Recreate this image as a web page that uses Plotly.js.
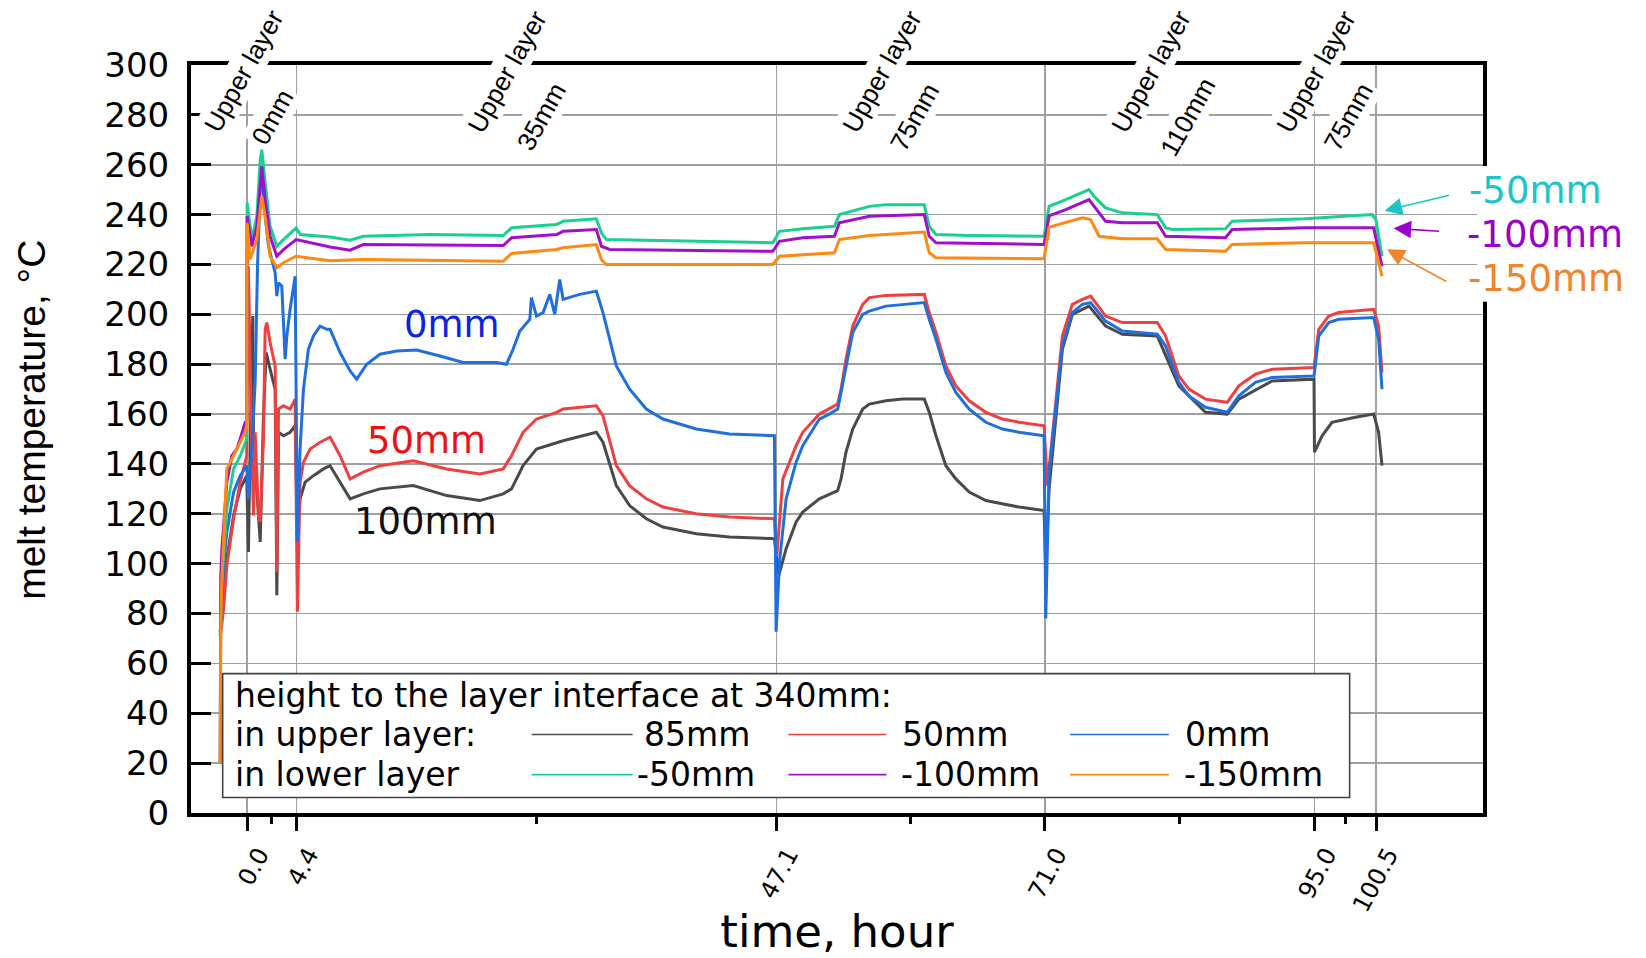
<!DOCTYPE html>
<html>
<head>
<meta charset="utf-8">
<script src="https://cdn.plot.ly/plotly-3.0.1.min.js"></script>
<style>html,body{margin:0;padding:0;background:#fff;}#chart{width:1646px;height:958px;}</style>
</head>
<body>
<div id="chart"></div>
<script>
// ---------- data (time in hours, temperature in °C) ----------
const t85 = [-2.40,-2.25,-2.10,-1.81,-1.21,-0.62,-0.04,0.11,0.26,0.50,0.56,0.71,1.16,1.45,1.69,2.04,2.49,2.64,2.79,3.23,3.82,4.27,4.47,4.71,5.16,5.90,6.79,7.38,8.27,9.16,10.34,11.82,14.79,17.75,20.71,22.79,23.53,24.56,25.75,28.12,31.08,31.67,32.86,34.04,35.53,37.01,39.97,42.93,46.93,47.32,47.97,48.86,49.45,50.34,50.93,52.56,52.86,53.30,53.90,54.79,55.38,56.86,58.34,60.27,60.71,61.31,62.19,63.08,64.27,65.75,67.23,68.71,70.93,71.08,71.38,72.56,73.45,74.93,76.41,77.90,81.01,82.93,85.30,87.23,88.27,91.23,94.96,95.00,95.68,96.56,98.64,100.27,100.71,101.01];
const v85 = [71,84,88.7,102,119.3,130,135.3,104.7,146,199.3,150,140,108.7,159.3,184.7,178,170,87.3,152.7,151.3,152.7,155.3,112,126,132.7,135.3,138,139.3,132.7,126,128,130,131.3,127.3,125.3,128,130,139.3,146,149.3,152.7,148.7,131.3,123.3,118,114.7,112,110.7,110,95.3,106,116.7,120.7,124,126,129.3,134,144.7,154,162,164,165.3,166,166,160.7,151.3,139.3,134,128.7,125.3,124,122.7,121.3,98,130,186,200,203.3,195.3,192,191.3,171.3,160.7,160,166,173.3,174,144.7,151.3,156.7,158.7,160,152.7,139.3];

const t50 = [-2.35,-2.10,-1.81,-1.21,-0.62,-0.04,0.11,0.26,0.41,0.56,0.71,1.01,1.16,1.45,1.60,1.75,2.04,2.49,2.64,2.79,3.23,3.82,4.27,4.47,4.71,5.01,5.60,6.49,7.08,7.38,8.27,9.16,10.34,11.82,14.79,17.75,20.71,22.79,23.53,24.56,25.75,27.53,28.12,31.08,31.67,32.86,34.04,35.53,37.01,39.97,42.93,46.93,47.14,47.38,47.68,48.86,49.45,50.93,52.56,52.86,53.30,53.90,54.79,55.38,56.86,60.27,60.71,61.31,62.19,63.08,64.27,65.75,67.23,68.71,70.93,71.23,71.97,72.56,73.45,74.34,75.08,76.41,77.90,81.01,81.75,82.93,83.82,85.30,87.23,88.27,89.75,91.23,94.96,95.38,96.27,97.16,100.27,100.71,101.01];
const v50 = [72,82,99.3,118,132.7,143.3,219.3,172.7,146,119.3,152.7,119.3,116.7,150,194,196.7,188.7,179.3,96.7,162,163.3,162,166,80.7,132.7,140.7,146,148.7,150,150.7,143.3,134,136.7,139.3,141.3,138,136,138,143.3,152.7,158,160.7,162,163.3,159.3,139.3,131.3,126,122.7,120,118.7,118,103,116,134,147.3,152.7,160,164,170,182,195.3,204,206.7,207.6,208,200.7,192.7,179.3,171.3,165.3,160.7,158,156.7,155.3,131.3,166,191.3,204,206,207.3,199.3,196.7,196.7,191.3,175.3,170,166,164.7,171.3,176,178,178.7,194,199.3,200.7,202,195.3,176.7];

const t0 = [-2.40,-2.10,-1.81,-1.21,-0.62,-0.04,0.11,0.41,0.71,0.92,1.16,1.30,1.60,1.90,2.34,2.49,2.64,2.79,3.08,3.23,3.38,3.53,3.82,4.27,4.47,4.71,5.01,5.45,5.90,6.49,7.08,7.38,8.27,9.16,9.75,10.64,11.82,13.30,15.08,17.16,19.23,22.19,23.08,23.67,24.27,25.16,25.30,25.75,26.34,26.93,27.38,27.82,28.12,29.60,31.08,31.67,32.86,34.04,35.53,37.01,39.97,42.93,46.93,47.08,47.38,47.97,48.86,49.45,50.34,50.93,51.82,52.56,52.86,53.30,53.90,54.79,55.38,56.86,58.34,60.27,60.71,61.31,62.19,63.08,64.27,65.75,67.23,68.71,70.93,71.08,71.38,71.97,72.56,73.45,74.34,75.08,76.41,77.90,81.01,81.75,82.93,83.82,85.30,87.23,88.27,89.75,91.23,94.96,95.38,96.27,97.16,100.27,100.71,101.01];
const v0 = [72.7,99.3,112.7,128.7,135.3,139.3,126,146,172.7,219.3,250,258,239.3,227.3,219.3,216.7,207.3,212.7,211.3,196.7,182,191.3,202,215.3,108.7,146,170,186,191.3,195.3,194,194,184.7,177.3,174,180,184,185.3,185.7,183.3,180.7,180.7,180,186,193.3,198,206.7,199.3,200.7,208,200,214,206,208,209.3,200.7,179.3,170,162,158,154,152,151.3,72.7,100.7,126,140.7,147.3,154,158,160,162,168.7,179.3,192.7,200,201.3,203.3,204,204.7,198,190,176.7,168.7,162,156.7,154,152.7,151.3,78,136.7,163.3,187.3,200.7,204,204.7,197.3,193.3,192,187.3,172.7,167.3,162.7,160.7,167.3,172.7,174.7,175.3,191.3,196.7,198,198.7,190,170];

const tm50 = [-2.40,-2.35,-2.25,-1.81,-1.21,-0.62,-0.04,0.00,0.41,0.86,1.16,1.30,1.60,2.04,2.64,3.23,4.36,4.71,7.38,9.16,10.34,16.27,22.79,23.53,27.53,28.12,31.08,31.53,31.97,37.01,46.79,47.38,49.45,52.27,52.71,55.38,56.86,60.27,60.71,61.31,64.27,70.93,71.38,72.86,74.93,75.38,76.41,77.90,81.01,81.75,82.34,87.08,87.67,94.19,100.12,100.47,101.01];
const vm50 = [20,85,92.7,122,138,143.3,150,244.7,230,239.3,262,266,252.7,235.3,227.3,230,234.7,232,231,229.7,231.3,232,231.6,234.7,236,237.3,238.3,232.7,230,229.6,228.7,233.3,234.3,235.3,240,243.3,244,244,235.3,232,231.6,231.3,243.3,246,250,247.3,242.7,240.7,240,234.7,234,234.3,237.3,238.3,240,238,223.3];

const tm100 = [-2.40,-2.35,-2.25,-1.81,-1.36,-0.92,-0.62,-0.18,-0.04,0.00,0.41,0.86,1.30,1.60,2.04,2.64,3.23,4.36,7.38,9.16,10.34,22.79,23.53,27.53,28.12,31.08,31.53,32.27,46.79,47.38,49.45,52.27,52.71,55.38,60.27,60.71,61.31,70.93,71.38,72.86,74.93,75.38,76.41,77.90,81.01,81.75,87.08,87.67,94.19,100.27,101.01];
const vm100 = [20,95,106,132.7,143.3,146,150,156.7,157.3,239.3,227.3,235.3,259.3,246,231.3,223.3,226,230,227,225.7,228,227.6,230.7,232,233.3,234,227.3,226,225.3,229.3,230.7,231.3,236.7,239.3,240,231.3,228.7,228,239.5,242,246,243.3,237.3,236.7,236.7,231.3,230.7,234,234.7,234.7,219.3];

const tm150 = [-2.40,-2.35,-2.25,-1.96,-1.81,-1.36,-0.92,-0.33,-0.04,0.00,0.26,0.86,1.30,1.60,2.04,2.64,3.23,4.36,7.38,10.34,22.79,23.53,27.53,28.12,31.08,31.53,31.97,46.79,47.38,49.45,52.27,52.71,55.38,60.27,60.71,61.31,70.93,71.38,72.86,74.34,75.08,75.82,77.90,81.01,81.75,87.08,87.67,94.19,100.27,101.01];
const vm150 = [20,75,95,126,138,142,146,151.3,155,236.7,222,230,247.3,239.3,223.3,218.7,220.7,223.3,221.5,222,221.3,224.4,226,226.7,228,222,220,220,223.3,224,224.7,230,231.6,233,224.7,222.7,222.3,235,236.7,238.7,238,231.3,230.3,230.3,226,225.3,228,228.7,228.7,215.3];

const seriesNames = ['85mm','50mm','0mm','-50mm','-100mm','-150mm'];
const seriesColors = ['#4a4a4a','#ee4040','#1f6fdc','#18d090','#a010cc','#ff8810'];

const xTickVals = [0, 4.4, 47.1, 71.0, 95.0, 100.5];
const xTickText = ['0.0','4.4','47.1','71.0','95.0','100.5'];
const xMinorVals = [2.2, 25.75, 59.05, 83.0, 97.75];
const yTickVals = [0,20,40,60,80,100,120,140,160,180,200,220,240,260,280,300];

const stageTimes = [-0.27, 23.2, 56.55, 80.5, 95.2];
const stageHeights = ['0mm','35mm','75mm','110mm','75mm'];

// ---------- traces ----------
const tArr = [t85,t50,t0,tm50,tm100,tm150];
const vArr = [v85,v50,v0,vm50,vm100,vm150];
const traces = tArr.map((t,i)=>({
  type:'scatter', mode:'lines', x:t, y:vArr[i], name:seriesNames[i],
  line:{color:seriesColors[i], width:3}, hoverinfo:'x+y+name'
}));

// ---------- annotations ----------
const ann = [];
const blk = '#000';
const stageLine2dx = [2.49, 2.93, 2.83, 3.2, 2.8];
stageTimes.forEach((t,i)=>{
  ann.push({x:t, y:297.4, xref:'x', yref:'y', text:'Upper layer', showarrow:false, textangle:-61,
    font:{family:'Liberation Sans, Arial, sans-serif', size:26, color:blk}, bgcolor:'#fff', borderpad:2,
    xanchor:'center', yanchor:'middle'});
  ann.push({x:t+stageLine2dx[i], y:279.3, xref:'x', yref:'y', text:stageHeights[i], showarrow:false, textangle:-61,
    font:{family:'Liberation Sans, Arial, sans-serif', size:26, color:blk}, bgcolor:'#fff', borderpad:2,
    xanchor:'center', yanchor:'middle'});
});
// in-plot labels
ann.push({x:18.2, y:195.8, xref:'x', yref:'y', text:'0mm', showarrow:false, xanchor:'center', yanchor:'middle', font:{family:'DejaVu Sans', size:37, color:'#0c22e8'}});
ann.push({x:16.0, y:149.3, xref:'x', yref:'y', text:'50mm', showarrow:false, xanchor:'center', yanchor:'middle', font:{family:'DejaVu Sans', size:37, color:'#ee1111'}});
ann.push({x:15.9, y:116.8, xref:'x', yref:'y', text:'100mm', showarrow:false, xanchor:'center', yanchor:'middle', font:{family:'DejaVu Sans', size:37, color:'#111'}});
// right labels
ann.push({x:1.041, y:0.8323, xref:'paper', yref:'paper', text:'-50mm', showarrow:false, xanchor:'center', yanchor:'middle', font:{family:'DejaVu Sans', size:37, color:'#1cc4c8'}});
ann.push({x:1.048, y:0.7734, xref:'paper', yref:'paper', text:'-100mm', showarrow:false, xanchor:'center', yanchor:'middle', font:{family:'DejaVu Sans', size:37, color:'#9a00cc'}});
ann.push({x:1.0488, y:0.7152, xref:'paper', yref:'paper', text:'-150mm', showarrow:false, xanchor:'center', yanchor:'middle', font:{family:'DejaVu Sans', size:37, color:'#f08428'}});
// arrows
ann.push({x:101.24, y:241.5, xref:'x', yref:'y', text:'', showarrow:true, ax:66, ay:-16, arrowcolor:'#1cc4c8', arrowhead:2, arrowsize:2.2, arrowwidth:1.6, standoff:0});
ann.push({x:102.04, y:234.5, xref:'x', yref:'y', text:'', showarrow:true, ax:47, ay:3, arrowcolor:'#9a00cc', arrowhead:2, arrowsize:2.2, arrowwidth:1.6, standoff:0});
ann.push({x:101.45, y:226.1, xref:'x', yref:'y', text:'', showarrow:true, ax:61, ay:33, arrowcolor:'#f08428', arrowhead:2, arrowsize:2.2, arrowwidth:1.6, standoff:0});
// y title
ann.push({x:-0.123, y:0.5257, xref:'paper', yref:'paper', text:'melt temperature, °C', textangle:-90, showarrow:false,
  font:{family:'Liberation Sans, Arial, sans-serif', size:39, color:blk}, xanchor:'center', yanchor:'middle'});

// legend box (drawn as shapes + text)
const legFont = {family:'DejaVu Sans', size:33, color:blk};
ann.push({x:-1.24, y:47.3, xref:'x', yref:'y', xanchor:'left', yanchor:'middle', text:'height to the layer interface at 340mm:', showarrow:false, font:legFont});
ann.push({x:-1.24, y:31.5, xref:'x', yref:'y', xanchor:'left', yanchor:'middle', text:'in upper layer:', showarrow:false, font:legFont});
ann.push({x:-1.24, y:15.4, xref:'x', yref:'y', xanchor:'left', yanchor:'middle', text:'in lower layer', showarrow:false, font:legFont});
const legLabelX = [35.11, 58.13, 83.29, 34.49, 58.04, 83.2];
const legLineX0 = [25.33, 48.18, 73.24, 25.33, 48.18, 73.24];
const legLineX1 = [34.31, 56.89, 82.04, 34.31, 56.89, 82.04];
const legRowY = [31.5, 31.5, 31.5, 15.4, 15.4, 15.4];
const shapes = [
  {type:'rect', xref:'x', yref:'y', x0:-2.18, x1:98.13, y0:6.2, y1:55.9, line:{color:'#444', width:1.6}, fillcolor:'#fff', layer:'above'},
  {type:'rect', xref:'paper', yref:'paper', x0:0.9955, x1:1.006, y0:0.6834, y1:0.8651, line:{width:0}, fillcolor:'#fff', layer:'above'}
];
seriesNames.forEach((n,i)=>{
  ann.push({x:legLabelX[i], y:legRowY[i], xref:'x', yref:'y', xanchor:'left', yanchor:'middle', text:n, showarrow:false, font:legFont});
  shapes.push({type:'line', xref:'x', yref:'y', x0:legLineX0[i], x1:legLineX1[i], y0:legRowY[i], y1:legRowY[i], line:{color:seriesColors[i], width:1.6}, layer:'above'});
});

const layout = {
  width:1646, height:958,
  margin:{l:191, r:163, t:65, b:145, pad:0},
  paper_bgcolor:'#fff', plot_bgcolor:'#fff',
  showlegend:false,
  font:{family:'DejaVu Sans', color:blk},
  xaxis:{
    range:[-5,110], tickmode:'array', tickvals:xTickVals, ticktext:xTickText, tickangle:-62,
    ticks:'outside', ticklen:14, tickwidth:3, tickcolor:blk,
    showline:true, linewidth:4, linecolor:blk, mirror:true,
    showgrid:true, gridcolor:'#a0a0a0', gridwidth:1.6, zeroline:false,
    tickfont:{family:'DejaVu Sans', size:24, color:blk}, ticklabelshift:12,
    minor:{tickmode:'array', tickvals:xMinorVals, ticks:'outside', ticklen:7, tickwidth:3, tickcolor:blk, showgrid:false},
    title:{text:'time, hour', font:{family:'DejaVu Sans', size:45, color:blk}, standoff:18}
  },
  yaxis:{
    range:[0,300], tickmode:'array', tickvals:yTickVals,
    ticks:'inside', ticklen:20, tickwidth:3, tickcolor:blk,
    showline:true, linewidth:4, linecolor:blk, mirror:true,
    showgrid:true, gridcolor:'#a0a0a0', gridwidth:1.6, zeroline:false,
    tickfont:{family:'DejaVu Sans', size:34, color:blk}, ticklabelstandoff:11
  },
  annotations:ann,
  shapes:shapes
};

Plotly.newPlot('chart', traces, layout, {displayModeBar:false, staticPlot:true});
</script>
</body>
</html>
